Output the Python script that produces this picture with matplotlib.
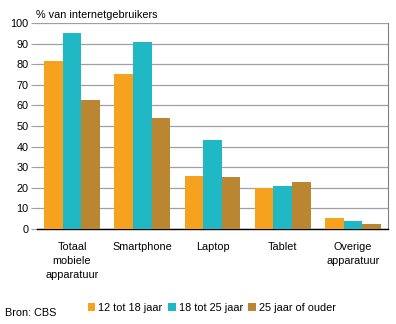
import matplotlib
matplotlib.use("Agg")
import matplotlib.pyplot as plt
import numpy as np

plt.rcParams["font.family"] = ["Liberation Sans", "DejaVu Sans"]

categories = ["Totaal\nmobiele\napparatuur", "Smartphone", "Laptop", "Tablet", "Overige\napparatuur"]
series_names = ["12 tot 18 jaar", "18 tot 25 jaar", "25 jaar of ouder"]
age_12_18 = [81.5, 75.2, 25.7, 19.9, 5.3]
age_18_25 = [95.1, 90.8, 43.2, 20.9, 3.9]
age_25_plus = [62.6, 53.9, 25.2, 22.8, 2.4]
colors = ["#f6a21e", "#1fb8c4", "#bb8632"]

fig = plt.figure(figsize=(3.96, 3.24), dpi=100)
ax = fig.add_axes([0.093, 0.293, 0.887, 0.636])

x = np.arange(len(categories))
w = 0.265
for i, (vals, name) in enumerate(zip([age_12_18, age_18_25, age_25_plus], series_names)):
    ax.bar(x + (i - 1) * w, vals, width=w, color=colors[i], label=name, zorder=3)

ax.set_xlim(-0.5, len(categories) - 0.5)
ax.set_ylim(0, 100)
ax.set_yticks(range(0, 101, 10))
ax.yaxis.grid(True, color="#a0a0a0", linewidth=0.9, zorder=0)
ax.tick_params(axis="y", length=4, color="#a0a0a0", labelsize=7.8, pad=2)
ax.tick_params(axis="x", length=0, labelsize=7.8, pad=9)
ax.set_xticks(x)
ax.set_xticklabels(categories, linespacing=1.55, va="top")
ax.spines["left"].set_visible(False)
ax.spines["top"].set_visible(False)
ax.spines["right"].set_color("#808080")
ax.spines["bottom"].set_color("black")
ax.spines["bottom"].set_linewidth(1.0)

fig.text(0.091, 0.955, "% van internetgebruikers", fontsize=7.8, ha="left", va="center")
fig.text(0.012, 0.033, "Bron: CBS", fontsize=7.8, ha="left", va="center")

handles, labels = ax.get_legend_handles_labels()
fig.legend(handles, labels, loc="center", bbox_to_anchor=(0.535, 0.05), ncol=3,
           frameon=False, fontsize=7.8, handlelength=0.7, handleheight=0.7,
           handletextpad=0.3, columnspacing=0.5)

fig.savefig("out.png", dpi=100)
